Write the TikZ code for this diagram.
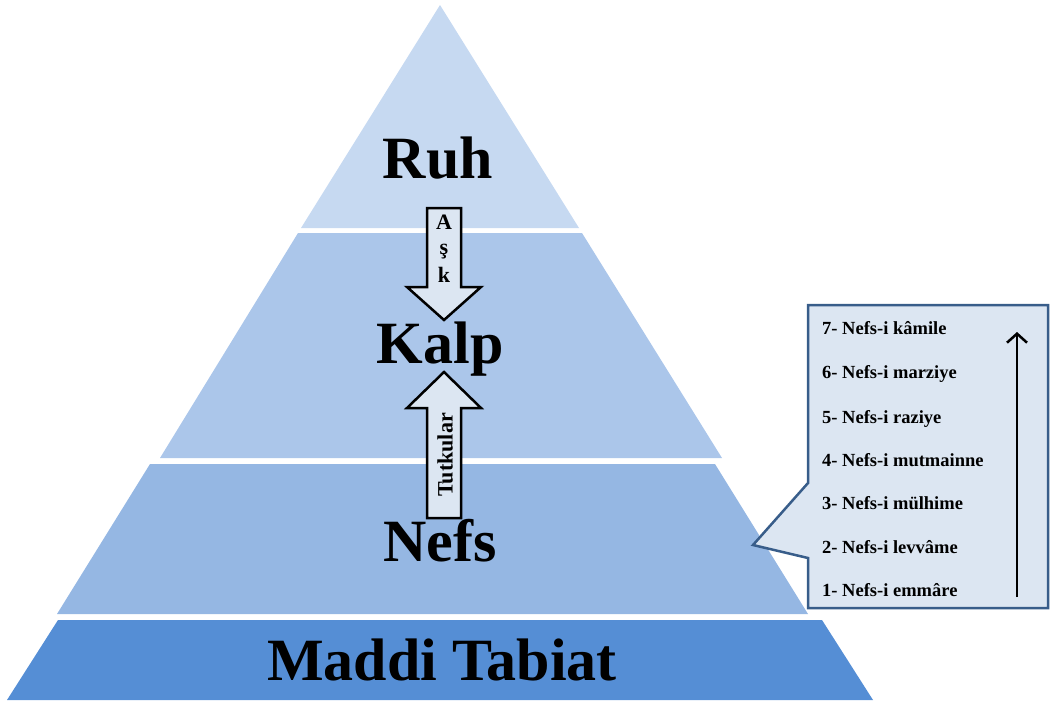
\documentclass[tikz,border=0pt]{standalone}
\usepackage{fontspec}
\setmainfont{Liberation Serif}
\usetikzlibrary{arrows.meta}
\definecolor{ruhblue}{RGB}{198,217,241}
\definecolor{kalpblue}{RGB}{171,198,234}
\definecolor{nefsblue}{RGB}{149,183,227}
\definecolor{tabiatblue}{RGB}{85,142,213}
\definecolor{boxfill}{RGB}{220,230,242}
\definecolor{boxline}{RGB}{56,93,138}

\tikzset{
    layertext/.style={font=\fontsize{60}{60}\selectfont\bfseries, anchor=base, inner sep=0pt},
    nefsitem/.style={font=\fontsize{18.5}{18.5}\selectfont\bfseries, anchor=base west, inner sep=0pt},
    arrowtext/.style={font=\fontsize{22}{22}\selectfont\bfseries, inner sep=0pt},
    blockarrow/.style={draw=black, line width=2.5pt, fill=boxfill, line join=miter}
}

\begin{document}
\begin{tikzpicture}[x=1pt, y=-1pt]
    \useasboundingbox (0,0) rectangle (1051,702);

    % pyramid layers
    \fill[ruhblue] (440,5) -- (579,228) -- (301,228) -- cycle;
    \fill[kalpblue] (298,233) -- (582,233) -- (722,458) -- (160,458) -- cycle;
    \fill[nefsblue] (150,464) -- (715,464) -- (808,614) -- (57,614) -- cycle;
    \fill[tabiatblue] (58,620) -- (822,620) -- (873,700) -- (7,700) -- cycle;

    \node[layertext] (ruh) at (438,178) {Ruh};
    \node[layertext] (kalp) at (440,363) {Kalp};
    \node[layertext] (nefs) at (440,561) {Nefs};
    \node[layertext] (tabiat) at (442,680) {Maddi Tabiat};

    % ask arrow (down)
    \draw[blockarrow] (427,208) -- (461,208) -- (461,287) -- (481,287) -- (444,320)
        -- (407,287) -- (427,287) -- cycle;
    \node[arrowtext, anchor=base] (askA) at (444,229) {A};
    \node[arrowtext, anchor=base] (askS) at (444,254) {ş};
    \node[arrowtext, anchor=base] (askK) at (444,282) {k};

    % tutkular arrow (up)
    \draw[blockarrow] (427,518) -- (427,408) -- (407,408) -- (444,372) -- (481,408)
        -- (461,408) -- (461,518) -- cycle;
    \node[arrowtext, rotate=90] (tutkular) at (445,455) {Tutkular};

    % callout with the stages
    \draw[boxline, line width=2.5pt, fill=boxfill, line join=miter] (808,305) -- (1048,305)
        -- (1048,608) -- (808,608) -- (808,558) -- (753,545) -- (808,483) -- cycle;

    \node[nefsitem] (n7) at (822,334) {7- Nefs-i kâmile};
    \node[nefsitem] (n6) at (822,378) {6- Nefs-i marziye};
    \node[nefsitem] (n5) at (822,423) {5- Nefs-i raziye};
    \node[nefsitem] (n4) at (822,466) {4- Nefs-i mutmainne};
    \node[nefsitem] (n3) at (822,509) {3- Nefs-i mülhime};
    \node[nefsitem] (n2) at (822,553) {2- Nefs-i levvâme};
    \node[nefsitem] (n1) at (822,596) {1- Nefs-i emmâre};

    \coordinate (low) at (1017,597);
    \coordinate (high) at (1017,332);
    \draw[line width=2.5pt, -{Straight Barb[length=9pt,width=20pt]}] (low) -- (high);
\end{tikzpicture}
\end{document}
